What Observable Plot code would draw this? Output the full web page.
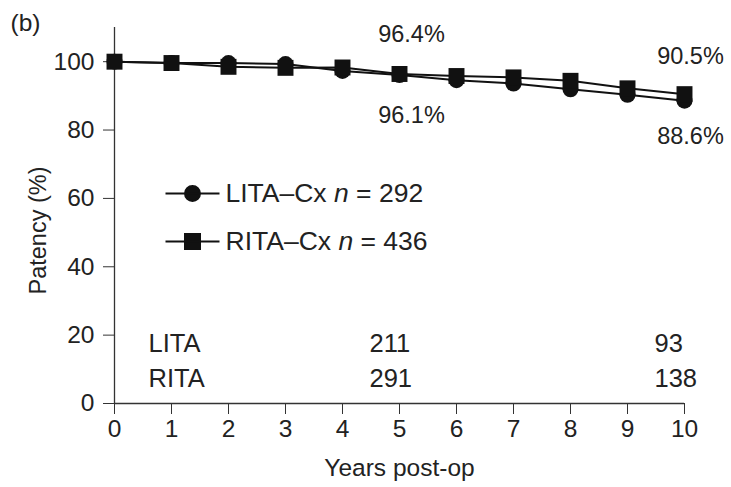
<!DOCTYPE html>
<html><head><meta charset="utf-8">
<script src="https://cdn.jsdelivr.net/npm/d3@7"></script>
<script src="https://cdn.jsdelivr.net/npm/@observablehq/plot@0.6"></script>
<style>body{margin:0;background:#fff} #chart{width:731px;height:487px}</style>
</head><body><div id="chart"></div>
<script>
// ---- data ----
const years = [0, 1, 2, 3, 4, 5, 6, 7, 8, 9, 10];
const litaPatency = [100, 99.6, 99.6, 99.3, 97.3, 96.1, 94.6, 93.6, 91.9, 90.3, 88.6];
const ritaPatency = [100, 99.6, 98.5, 98.2, 98.3, 96.4, 95.8, 95.4, 94.4, 92.2, 90.5];
const yTicks = [0, 20, 40, 60, 80, 100];
const xTicks = [0, 1, 2, 3, 4, 5, 6, 7, 8, 9, 10];
const riskYears = [5, 10];
const litaAtRisk = [211, 93];
const ritaAtRisk = [291, 138];
const seriesNames = ["LITA–Cx", "RITA–Cx"];
const seriesN = [292, 436];
const riskRowNames = ["LITA", "RITA"];

const lita = years.map((y, i) => ({year: y, value: litaPatency[i]}));
const rita = years.map((y, i) => ({year: y, value: ritaPatency[i]}));
const litaRisk = riskYears.map((y, i) => ({year: y, n: litaAtRisk[i]}));
const ritaRisk = riskYears.map((y, i) => ({year: y, n: ritaAtRisk[i]}));
const at = (arr, yr) => arr.filter(d => d.year === yr);

const INK = "#222";
const FONT = 23.5;
const FONT_TICK = 24.5;
const FONT_LEGEND = 26.5;
const FONT_RISK = 25.5;

// legend symbols: a short line with a marker in the middle
const legendCircle = {draw(ctx) { ctx.moveTo(-27, 0); ctx.lineTo(27, 0); ctx.moveTo(7.5, 0); ctx.arc(0, 0, 7.5, 0, 2 * Math.PI); }};
const legendSquare = {draw(ctx) { ctx.moveTo(-27, 0); ctx.lineTo(27, 0); ctx.rect(-7.5, -7.5, 15, 15); }};

const txt = (o) => ({fill: INK, lineAnchor: "middle", ...o});

const chart = Plot.plot({
  width: 731, height: 487,
  marginLeft: 114, marginRight: 47, marginTop: 27, marginBottom: 84,
  style: {fontFamily: "Liberation Sans, Arial, sans-serif", fontSize: FONT + "px", color: INK, background: "#fff"},
  x: {domain: [0, 10]},
  y: {domain: [0, 110]},
  marks: [
    Plot.axisX({ticks: xTicks, tickSize: 11, tickPadding: 5, label: null, stroke: "#333", fontSize: FONT_TICK}),
    Plot.axisY({ticks: yTicks, tickSize: 11, tickPadding: 9, label: null, stroke: "#333", fontSize: FONT_TICK}),
    Plot.ruleX([0], {stroke: "#333", strokeWidth: 1.3}),
    Plot.ruleY([0], {stroke: "#333", strokeWidth: 1.3}),
    // series
    Plot.line(lita, {x: "year", y: "value", stroke: "#111", strokeWidth: 2}),
    Plot.line(rita, {x: "year", y: "value", stroke: "#111", strokeWidth: 2}),
    Plot.dot(lita, {x: "year", y: "value", symbol: "circle", r: 8, fill: "#111"}),
    Plot.dot(rita, {x: "year", y: "value", symbol: "square", r: 9, fill: "#111"}),
    // value annotations
    Plot.text(at(rita, 5), txt({x: "year", y: "value", text: d => d.value.toFixed(1) + "%", dx: 12, dy: -40, fontSize: FONT})),
    Plot.text(at(lita, 5), txt({x: "year", y: "value", text: d => d.value.toFixed(1) + "%", dx: 12, dy: 40, fontSize: FONT})),
    Plot.text(at(rita, 10), txt({x: "year", y: "value", text: d => d.value.toFixed(1) + "%", dx: 6, dy: -38, fontSize: FONT})),
    Plot.text(at(lita, 10), txt({x: "year", y: "value", text: d => d.value.toFixed(1) + "%", dx: 6, dy: 36, fontSize: FONT})),
    // legend
    Plot.dot([0], {frameAnchor: "top-left", dx: 78, dy: 166, symbol: legendCircle, fill: "#111", stroke: "#111", strokeWidth: 2}),
    Plot.dot([0], {frameAnchor: "top-left", dx: 78, dy: 214, symbol: legendSquare, fill: "#111", stroke: "#111", strokeWidth: 2}),
    Plot.text([0], txt({frameAnchor: "top-left", dx: 111, dy: 166, text: () => `${seriesNames[0]} n = ${seriesN[0]}`, textAnchor: "start", fontSize: FONT_LEGEND})),
    Plot.text([0], txt({frameAnchor: "top-left", dx: 111, dy: 214, text: () => `${seriesNames[1]} n = ${seriesN[1]}`, textAnchor: "start", fontSize: FONT_LEGEND})),
    // numbers at risk
    Plot.text([riskRowNames[0]], txt({frameAnchor: "bottom-left", dx: 34, dy: -60, text: d => d, textAnchor: "start", fontSize: FONT_RISK})),
    Plot.text([riskRowNames[1]], txt({frameAnchor: "bottom-left", dx: 34, dy: -25, text: d => d, textAnchor: "start", fontSize: FONT_RISK})),
    Plot.text(litaRisk, txt({x: "year", frameAnchor: "bottom", dx: -30, dy: -60, text: d => String(d.n), textAnchor: "start", fontSize: FONT_RISK})),
    Plot.text(ritaRisk, txt({x: "year", frameAnchor: "bottom", dx: -30, dy: -25, text: d => String(d.n), textAnchor: "start", fontSize: FONT_RISK})),
    // axis titles and panel letter
    Plot.text(["Years post-op"], txt({frameAnchor: "bottom", dy: 65, text: d => d, textAnchor: "middle", fontSize: FONT + 1})),
    Plot.text(["Patency (%)"], txt({frameAnchor: "left", dx: -76, dy: 15, rotate: -90, text: d => d, textAnchor: "middle", fontSize: FONT})),
    Plot.text(["(b)"], txt({frameAnchor: "top-left", dx: -104, dy: -4, text: d => d, textAnchor: "start", fontSize: FONT + 1}))
  ]
});

// italicize the "n" in legend entries
d3.select(chart).selectAll("text").each(function () {
  const t = this.textContent;
  const m = /^(.*) n = (\d+)$/.exec(t);
  if (!m) return;
  const el = d3.select(this);
  el.text(null);
  el.append("tspan").text(m[1] + " ");
  el.append("tspan").attr("font-style", "italic").text("n");
  el.append("tspan").text(" = " + m[2]);
});

document.getElementById("chart").appendChild(chart);
</script>
</body></html>
